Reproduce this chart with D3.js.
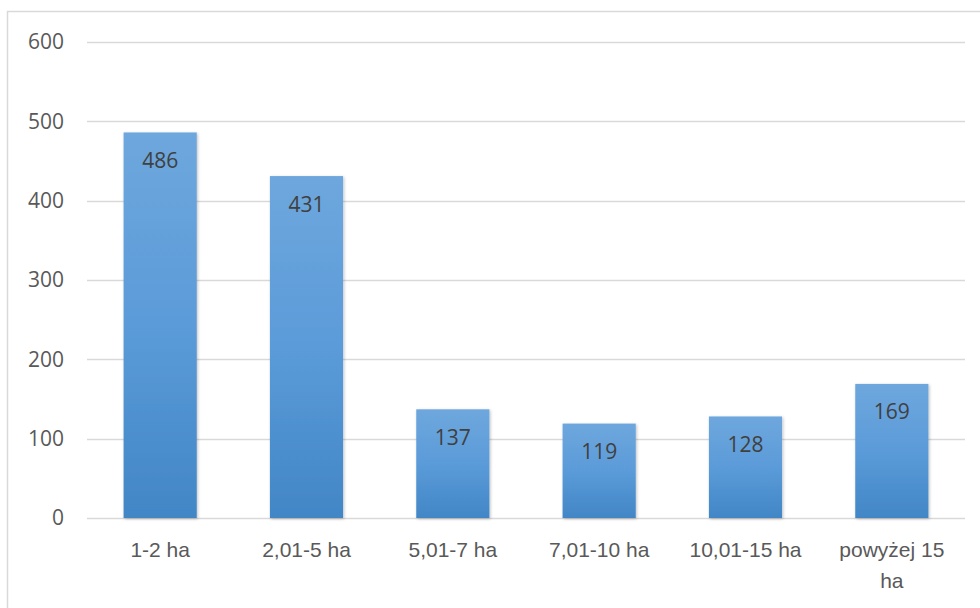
<!DOCTYPE html>
<html>
<head>
<meta charset="utf-8">
<script src="https://cdn.jsdelivr.net/npm/d3@7"></script>
<style>
  body { margin: 0; background: #fff; }
  svg { display: block; font-family: "Open Sans", "Noto Sans", sans-serif; }
</style>
</head>
<body>
<svg width="980" height="608"></svg>
<script>
// chart data
var categories = ["1-2 ha", "2,01-5 ha", "5,01-7 ha", "7,01-10 ha", "10,01-15 ha", "powyżej 15 ha"];
var values = [486, 431, 137, 119, 128, 169];
var yTicks = [0, 100, 200, 300, 400, 500, 600];

var svg = d3.select("svg"),
    margin = {top: 42, right: 15, bottom: 90, left: 87},
    width = 980 - margin.left - margin.right,
    height = 608 - margin.top - margin.bottom;

// outer frame of the chart area
svg.append("rect")
    .attr("x", 7.5).attr("y", 11.5)
    .attr("width", 1000).attr("height", 700)
    .attr("fill", "none")
    .attr("stroke", "#d9d9d9")
    .attr("stroke-width", 1.5);

// bar gradient + shadow
var defs = svg.append("defs");
var grad = defs.append("linearGradient")
    .attr("id", "barGrad")
    .attr("x1", 0).attr("y1", 0).attr("x2", 0).attr("y2", 1);
grad.append("stop").attr("offset", "0%").attr("stop-color", "#6ea7dd");
grad.append("stop").attr("offset", "50%").attr("stop-color", "#5b9bd9");
grad.append("stop").attr("offset", "100%").attr("stop-color", "#4286c6");

var shadow = defs.append("filter").attr("id", "shadow")
    .attr("x", "-10%").attr("y", "-10%").attr("width", "130%").attr("height", "120%");
shadow.append("feDropShadow")
    .attr("dx", 1).attr("dy", 1).attr("stdDeviation", 1.5)
    .attr("flood-color", "#000").attr("flood-opacity", 0.25);

var g = svg.append("g")
    .attr("transform", "translate(" + margin.left + "," + margin.top + ")");

// scales
var x = d3.scaleBand()
    .domain(categories)
    .range([0, width])
    .paddingInner(0.5)
    .paddingOuter(0.25);

var y = d3.scaleLinear()
    .domain([0, 600])
    .range([height, 0]);

// gridlines
g.selectAll(".grid")
    .data(yTicks)
    .enter().append("line")
    .attr("class", "grid")
    .attr("x1", 0).attr("x2", width)
    .attr("y1", function (d) { return Math.round(y(d)) + 0.5; })
    .attr("y2", function (d) { return Math.round(y(d)) + 0.5; })
    .attr("stroke", "#d9d9d9")
    .attr("stroke-width", 1.5);

// y axis labels
var yAxis = g.append("g")
    .call(d3.axisLeft(y).tickValues(yTicks).tickSize(0).tickPadding(23));
yAxis.select(".domain").remove();
yAxis.selectAll("text")
    .attr("fill", "#595959")
    .style("font-size", "21px")
    .style("font-family", "'Open Sans', sans-serif");

// bars
g.selectAll(".bar")
    .data(values)
    .enter().append("rect")
    .attr("class", "bar")
    .attr("x", function (d, i) { return x(categories[i]); })
    .attr("y", function (d) { return y(d); })
    .attr("width", x.bandwidth())
    .attr("height", function (d) { return height - y(d); })
    .attr("fill", "url(#barGrad)")
    .attr("filter", "url(#shadow)");

// value labels inside bars
g.selectAll(".val")
    .data(values)
    .enter().append("text")
    .attr("class", "val")
    .attr("x", function (d, i) { return x(categories[i]) + x.bandwidth() / 2; })
    .attr("y", function (d) { return y(d) + 35.5; })
    .attr("text-anchor", "middle")
    .attr("fill", "#404040")
    .style("font-size", "21px")
    .text(function (d) { return d; });

// x axis labels (wrap long one)
var xAxis = g.append("g")
    .attr("transform", "translate(0," + height + ")")
    .call(d3.axisBottom(x).tickSize(0).tickPadding(0));
xAxis.select(".domain").remove();
xAxis.selectAll("text").remove();

xAxis.selectAll(".tick").each(function (d) {
    var lines = d === "powyżej 15 ha" ? ["powyżej 15", "ha"] : [d];
    var t = d3.select(this).append("text")
        .attr("text-anchor", "middle")
        .attr("fill", "#595959")
        .style("font-size", "21px");
    lines.forEach(function (l, i) {
        t.append("tspan")
            .attr("x", 0)
            .attr("y", 39 + i * 31)
            .text(l);
    });
});
</script>
</body>
</html>
